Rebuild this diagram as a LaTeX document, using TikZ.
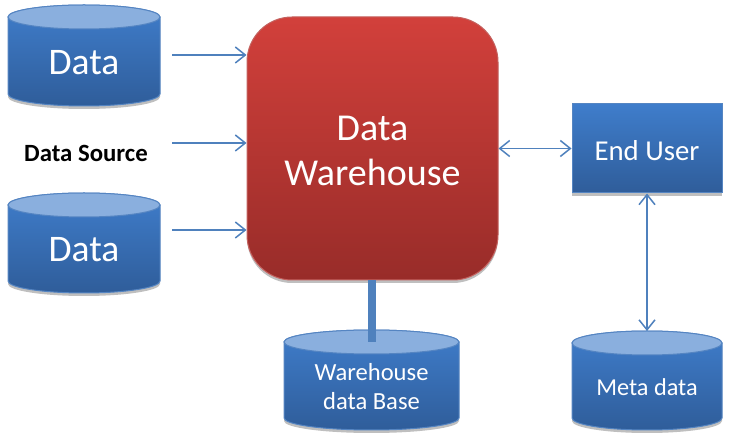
\documentclass[tikz,border=0pt]{standalone}
\usepackage{fontspec}
\setmainfont{Carlito}
\usetikzlibrary{arrows.meta,shadows}

\definecolor{blueedge}{HTML}{5585C2}
\definecolor{bluetop}{HTML}{3F7DCB}
\definecolor{bluebot}{HTML}{2F5D9A}
\definecolor{bluelid}{HTML}{8AAFDE}
\definecolor{redtop}{HTML}{D2403B}
\definecolor{redbot}{HTML}{982C29}
\definecolor{rededge}{HTML}{C4625F}
\definecolor{flowline}{HTML}{4F81BD}

\tikzset{
  softshadow/.style={drop shadow={shadow xshift=0pt,shadow yshift=-3pt,opacity=.25,fill=black}},
  flow/.style={draw=flowline,line width=1.5pt,-{Straight Barb[length=10pt,width=16pt]}},
  dflow/.style={draw=flowline,line width=1.5pt,{Straight Barb[length=10pt,width=16pt]}-{Straight Barb[length=10pt,width=16pt]}},
  cyllabel/.style={text=white,align=center,inner sep=0pt,font=\fontsize{#1}{29}\selectfont},
}

% #1 name, #2 left, #3 right, #4 top, #5 bottom, #6 font size, #7 text
\newcommand{\dbcyl}[7]{
  \pgfmathsetmacro{\cylrx}{(#3-#2)/2}
  \pgfmathsetmacro{\cylcx}{(#3+#2)/2}
  \draw[blueedge,line width=1pt,top color=bluetop,bottom color=bluebot,softshadow] (#2,#4+12) arc[start angle=180,end angle=0,x radius=\cylrx,y radius=-12] -- (#3,#5-12) arc[start angle=0,end angle=-180,x radius=\cylrx,y radius=-12] -- cycle;
  \draw[blueedge,line width=1pt,fill=bluelid] (\cylcx,#4+12) ellipse[x radius=\cylrx,y radius=12];
  \coordinate (#1top) at (\cylcx,#4);
  \node[cyllabel=#6,minimum width=#3 pt-#2 pt,minimum height=#5 pt-#4 pt-14pt] (#1) at (\cylcx,#4/2+#5/2+7) {#7};
}

\begin{document}
\begin{tikzpicture}[x=1pt,y=-1pt]
\useasboundingbox (0,0) rectangle (731,443);
\fill[white] (0,0) rectangle (731,443);

\dbcyl{dataa}{8}{160}{5}{106}{37.5}{Data}
\dbcyl{datab}{8}{160}{193}{293}{37.5}{Data}
\dbcyl{whdb}{284}{459}{330}{430}{24.6}{Warehouse\\data Base}
\dbcyl{meta}{572}{722}{331}{430}{24.3}{Meta data}

\node[font=\bfseries\fontsize{24.8}{28}\selectfont,inner sep=0pt] (source) at (86,153) {Data Source};

\node[draw=rededge,line width=1pt,rounded corners=45pt,top color=redtop,bottom color=redbot,softshadow,minimum width=251pt,minimum height=263pt,text=white,align=center,font=\fontsize{38}{45}\selectfont] (house) at (372.5,148.5) {\rule{0pt}{29pt}Data\\Warehouse};
\node[draw=blueedge,line width=1pt,top color=bluetop,bottom color=bluebot,softshadow,minimum width=150pt,minimum height=89pt,text=white,font=\fontsize{28.8}{33}\selectfont] (user) at (647,148.5) {\rule{0pt}{24pt}End User};

\coordinate (srca) at (172,55);
\coordinate (srcb) at (172,143);
\coordinate (srcc) at (172,230);

\draw[flow] (srca) -- (srca -| house.west);
\draw[flow] (srcb) -- (srcb -| house.west);
\draw[flow] (srcc) -- (srcc -| house.west);
\draw[dflow] (user.west -| house.east) -- (user.west);
\draw[dflow] (user.south) -- (metatop);
\draw[flowline,line width=8pt] (whdb.north |- house.south) -- ([yshift=2pt]whdb.north);
\end{tikzpicture}
\end{document}
